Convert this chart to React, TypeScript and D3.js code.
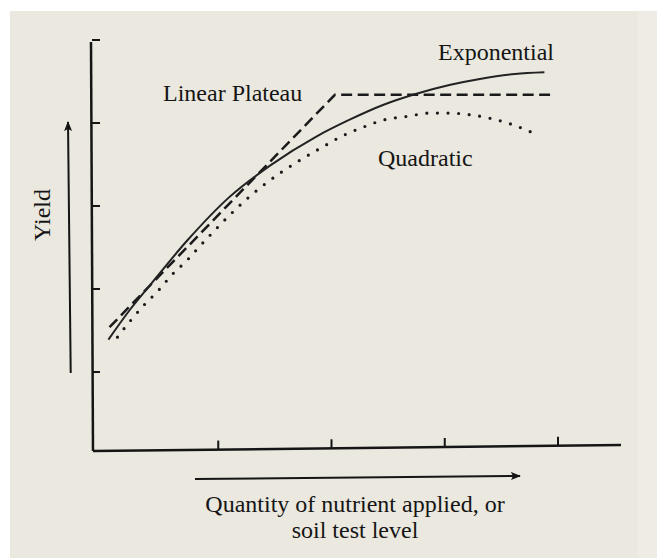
import * as d3 from "d3";

// values (x: nutrient units, y: yield units)
const exponentialX = [0.03, 0.22, 0.4, 0.73, 1.1, 1.46, 1.87, 2.16, 2.46, 2.72, 3.05, 3.31, 3.62, 3.88];
const exponentialY = [1.39, 1.75, 2.05, 2.59, 3.11, 3.49, 3.84, 4.04, 4.22, 4.34, 4.46, 4.53, 4.59, 4.61];

const plateauX = [0.04, 2.03, 3.93];
const plateauY = [1.54, 4.34, 4.34];

const quadraticX = [0.11, 0.22, 0.34, 0.47, 0.59, 0.72, 0.84, 1.37, 1.55, 1.72, 1.92, 2.09, 2.28, 2.47, 2.67, 2.87, 3.03, 3.22, 3.42, 3.6, 3.78];
const quadraticY = [1.42, 1.61, 1.8, 1.98, 2.17, 2.34, 2.52, 3.22, 3.4, 3.55, 3.71, 3.84, 3.95, 4.04, 4.08, 4.12, 4.12, 4.1, 4.05, 3.98, 3.88];

const xTicks = [1, 2, 3, 4];
const yTicks = [1, 2, 3, 4, 5];

const xLabel = ["Quantity of nutrient applied, or", "soil test level"];
const yLabel = "Yield";

const font = "'Liberation Serif', 'Times New Roman', serif";
const ink = "#151515";

export default function App() {
  const x = d3.scaleLinear().domain([0, 4]).range([105, 558]);
  const y = d3.scaleLinear().domain([0, 5]).range([455, 40]);

  const zip = (xs: number[], ys: number[]) => xs.map((v, i) => [v, ys[i]] as [number, number]);

  const smooth = d3
    .line<[number, number]>()
    .x((d) => x(d[0]))
    .y((d) => y(d[1]))
    .curve(d3.curveMonotoneX);
  const straight = d3
    .line<[number, number]>()
    .x((d) => x(d[0]))
    .y((d) => y(d[1]));

  // x axis is drawn a touch slanted, like the scan
  const axisL = { x: 93, y: 451 };
  const axisR = { x: 621, y: 445 };
  const axisYAt = (px: number) => axisL.y + ((px - axisL.x) / (axisR.x - axisL.x)) * (axisR.y - axisL.y);

  return (
    <svg
      width={657}
      height={558}
      style={{ position: "absolute", left: 0, top: 0, display: "block" }}
    >
      <rect x={0} y={0} width={657} height={558} fill="#ffffff" />
      <rect x={10} y={11} width={647} height={547} fill="#ebe8df" />
      <rect x={638} y={11} width={19} height={547} fill="#efece5" />

      {/* y axis */}
      <line x1={91} y1={42} x2={93} y2={451} stroke={ink} strokeWidth={2.5} />
      {yTicks.map((d, i) => (
        <line
          key={i}
          x1={92}
          y1={y(d)}
          x2={100}
          y2={y(d)}
          stroke={ink}
          strokeWidth={2}
        />
      ))}

      {/* x axis */}
      <line x1={axisL.x} y1={axisL.y} x2={axisR.x} y2={axisR.y} stroke={ink} strokeWidth={2.5} />
      {xTicks.map((d, i) => (
        <line
          key={i}
          x1={x(d)}
          y1={axisYAt(x(d))}
          x2={x(d)}
          y2={axisYAt(x(d)) - 9}
          stroke={ink}
          strokeWidth={2}
        />
      ))}

      {/* curves */}
      <path
        d={straight(zip(plateauX, plateauY)) || ""}
        fill="none"
        stroke="#1a1a1a"
        strokeWidth={2.5}
        strokeDasharray="11 5.5"
      />
      <path
        d={smooth(zip(exponentialX, exponentialY)) || ""}
        fill="none"
        stroke="#222"
        strokeWidth={2}
      />
      <path
        d={smooth(zip(quadraticX, quadraticY)) || ""}
        fill="none"
        stroke="#1a1a1a"
        strokeWidth={3.2}
        strokeLinecap="round"
        strokeDasharray="0 10.6"
      />

      {/* curve labels */}
      <text x={438} y={60} fontSize={24} fontFamily={font} fill={ink}>
        Exponential
      </text>
      <text x={163} y={101} fontSize={24} fontFamily={font} fill={ink}>
        Linear Plateau
      </text>
      <text x={378} y={166} fontSize={24} fontFamily={font} fill={ink}>
        Quadratic
      </text>

      {/* y arrow + label */}
      <defs>
        <marker
          id="head"
          viewBox="0 0 10 10"
          refX={9}
          refY={5}
          markerWidth={5}
          markerHeight={5}
          markerUnits="strokeWidth"
          orient="auto"
        >
          <path d="M0,1 L10,5 L0,9 L2,5 Z" fill={ink} />
        </marker>
      </defs>
      <line
        x1={70.7}
        y1={373}
        x2={68}
        y2={122}
        stroke={ink}
        strokeWidth={2}
        markerEnd="url(#head)"
      />
      <text
        x={50}
        y={215}
        fontSize={24}
        fontFamily={font}
        fill={ink}
        textAnchor="middle"
        transform="rotate(-90, 50, 215)"
      >
        {yLabel}
      </text>

      {/* x arrow + label */}
      <line
        x1={195}
        y1={479}
        x2={520}
        y2={476}
        stroke={ink}
        strokeWidth={2}
        markerEnd="url(#head)"
      />
      {xLabel.map((t, i) => (
        <text
          key={i}
          x={355}
          y={512 + i * 26}
          fontSize={24}
          fontFamily={font}
          fill={ink}
          textAnchor="middle"
        >
          {t}
        </text>
      ))}
    </svg>
  );
}
